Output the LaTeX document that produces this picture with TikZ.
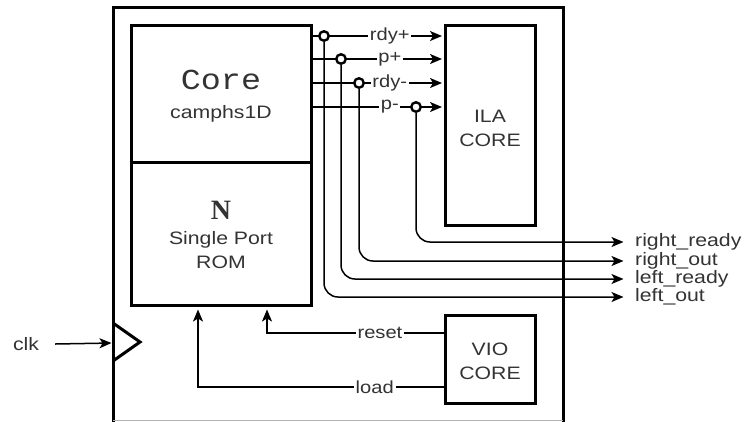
\documentclass[tikz,border=0pt]{standalone}
\usepackage{fontspec}
\setmainfont{Liberation Sans}
\newfontfamily\corefont{Liberation Mono}
\newfontfamily\romfont{Liberation Serif}
\usetikzlibrary{arrows.meta, positioning}

\begin{document}
\begin{tikzpicture}[x=1pt, y=-1pt,
    every node/.style={text=black!80},
    block/.style={rectangle, draw=black, line width=3pt, inner sep=0pt},
    txt/.style={font=\fontsize{18}{24}\selectfont, align=center, xscale=1.18},
    sigtxt/.style={font=\fontsize{17.5}{20}\selectfont, fill=white, inner sep=1.5pt, xscale=1.15},
    sig/.style={line width=1.5pt},
    arrow/.style={sig, -{Stealth[length=12pt, width=10pt, inset=3pt]}, shorten >=1.5pt},
    tap/.style={circle, draw, line width=2.4pt, fill=white, minimum size=9.5pt, inner sep=0pt,
        path picture={\fill (path picture bounding box.center) circle (1.2pt);}}
]
\useasboundingbox (0,0) rectangle (744,421);

% outer frame, cut off at the bottom
\draw[line width=3pt] (113,422) -- (113,7) -- (563,7) -- (563,422);
\draw[gray!60, line width=0.8pt] (113,420.5) -- (563,420.5);

% core and rom
\node[block, minimum width=180pt, minimum height=280pt] (mem) at (221,165) {};
\draw[line width=3pt] (mem.west |- 0,162) -- (mem.east |- 0,162);
\node[font=\corefont\fontsize{29}{30}\selectfont, xscale=1.15] (coretxt) at (221,80) {Core};
\node[txt] (camtxt) at (221,114) {camphs1D};
\node[font=\romfont\bfseries\fontsize{28}{30}\selectfont] (ntxt) at (221,210) {N};
\node[txt] (romtxt) at (221,250) {Single Port\\ROM};

% debug cores
\node[block, minimum width=90pt, minimum height=200pt] (ila) at (490,125) {};
\node[txt] (ilatxt) at (490,128) {ILA\\CORE};
\node[block, minimum width=90pt, minimum height=88pt] (vio) at (490,359) {};
\node[txt] (viotxt) at (490,361) {VIO\\CORE};

% probes into the ila
\foreach \yy/\lab in {36/rdy+, 59/p+, 83/rdy-, 107/p-} {
  \draw[arrow] (mem.east |- 0,\yy) -- node[sigtxt, pos=0.59] {\lab} (ila.west |- 0,\yy);
}

\node[tap] (t1) at (324,36) {};
\node[tap] (t2) at (341,59) {};
\node[tap] (t3) at (359,83) {};
\node[tap] (t4) at (416,107) {};

% outputs
\coordinate (o1) at (625,297);
\coordinate (o2) at (625,279);
\coordinate (o3) at (625,261);
\coordinate (o4) at (625,242);
\draw[arrow, rounded corners=14pt] (t1) |- (o1);
\draw[arrow, rounded corners=14pt] (t2) |- (o2);
\draw[arrow, rounded corners=14pt] (t3) |- (o3);
\draw[arrow, rounded corners=14pt] (t4) |- (o4);
\node[txt, right=6pt of o1] (lout) {left\_out};
\node[txt, right=6pt of o2] (lrdy) {left\_ready};
\node[txt, right=6pt of o3] (rout) {right\_out};
\node[txt, right=6pt of o4] (rrdy) {right\_ready};

% clock
\node[txt] (clk) at (26,344) {clk};
\coordinate (clkin) at (113,343);
\draw[arrow] ([xshift=12pt]clk.east) -- (clkin);
\draw[line width=3pt] (113,323) -- (140,342) -- (113,361);

% vio controls
\draw[arrow] ([yshift=26pt]vio.west) -| node[sigtxt, pos=0.18] {reset} ([xshift=46pt, yshift=-1.5pt]mem.south);
\draw[arrow] ([yshift=-28pt]vio.west) -| node[sigtxt, pos=0.14] {load} ([xshift=-23pt, yshift=-1.5pt]mem.south);
\end{tikzpicture}
\end{document}
